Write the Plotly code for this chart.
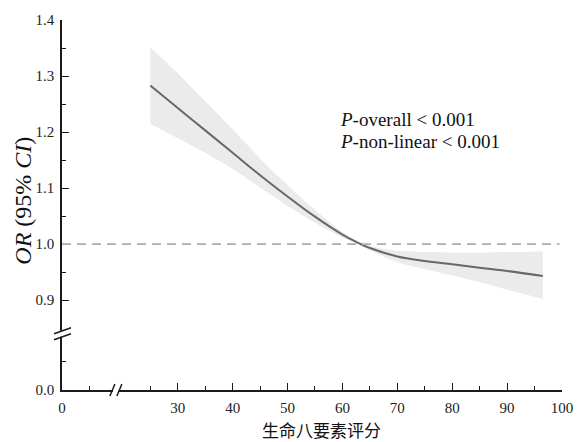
import plotly.graph_objects as go

# ---- data ----
score = [25, 30, 35, 40, 45, 50, 55, 60, 62.5, 65, 70, 75, 80, 85, 90, 96.5]
or_est = [1.283, 1.243, 1.203, 1.163, 1.123, 1.085, 1.049, 1.017, 1.004, 0.993, 0.978,
          0.970, 0.964, 0.958, 0.952, 0.943]
ci_upper = [1.351, 1.305, 1.255, 1.205, 1.153, 1.105, 1.061, 1.022, 1.006, 0.997, 0.988,
            0.986, 0.985, 0.985, 0.986, 0.987]
ci_lower = [1.215, 1.189, 1.163, 1.134, 1.101, 1.068, 1.038, 1.012, 1.002, 0.989, 0.968,
            0.955, 0.944, 0.932, 0.919, 0.902]

x_major_hi = [30, 40, 50, 60, 70, 80, 90, 100]
x_minor_hi = [25, 35, 45, 55, 65, 75, 85, 95]
y_major_hi = [0.9, 1.0, 1.1, 1.2, 1.3, 1.4]
y_minor_hi = [0.95, 1.05, 1.15, 1.25, 1.35]
ref_value = 1.0

p_text = ["<i>P</i>-overall < 0.001", "<i>P</i>-non-linear < 0.001"]
x_title = "生命八要素评分"
y_title = "<i>OR</i> (95% <i>CI</i>)"

# ---- layout geometry ----
W, H = 585, 442
L, R, T, B = 62, 22, 15, 52
pw, ph = W - L - R, H - T - B
fx = 54 / pw      # x break fraction
fy = 57 / ph      # y break fraction
serif = "Liberation Serif, Times New Roman, serif"
axis_col = "#1a1a1a"

fig = go.Figure()

# invisible anchors so that all four subplots (and their axes) exist
for xa, ya in [("x", "y2"), ("x", "y"), ("x2", "y2")]:
    fig.add_trace(go.Scatter(x=[0], y=[0], xaxis=xa, yaxis=ya, mode="lines",
                             line=dict(width=0), hoverinfo="skip", showlegend=False))

fig.add_trace(go.Scatter(x=score, y=ci_lower, xaxis="x2", yaxis="y", mode="lines",
                         line=dict(width=0, color="rgba(0,0,0,0)", shape="spline"),
                         hoverinfo="skip", showlegend=False))
fig.add_trace(go.Scatter(x=score, y=ci_upper, xaxis="x2", yaxis="y", mode="lines",
                         line=dict(width=0, color="rgba(0,0,0,0)", shape="spline"),
                         fill="tonexty", fillcolor="#ebebeb", hoverinfo="skip",
                         showlegend=False))
fig.add_trace(go.Scatter(x=score, y=or_est, xaxis="x2", yaxis="y", mode="lines",
                         line=dict(color="#686868", width=2, shape="spline"),
                         showlegend=False))

common = dict(showline=True, linecolor=axis_col, linewidth=1.5, ticks="inside",
              ticklen=7, tickwidth=1.3, tickcolor=axis_col, showgrid=False, zeroline=False,
              ticklabelstandoff=3,
              tickfont=dict(family=serif, size=15, color="#222"))
minor = dict(ticks="inside", ticklen=4, tickwidth=1.3, tickcolor=axis_col, tickmode="array")

fig.update_layout(
    width=W, height=H, margin=dict(l=L, r=R, t=T, b=B),
    paper_bgcolor="white", plot_bgcolor="white",
    xaxis=dict(domain=[0, fx], range=[0, 9.818], anchor="y2", tickmode="array",
               tickvals=[0], ticktext=["0"], minor=dict(tickvals=[5], **minor), **common),
    xaxis2=dict(domain=[fx, 1], range=[18.73, 100], anchor="y2", tickmode="array",
                tickvals=x_major_hi, minor=dict(tickvals=x_minor_hi, **minor), **common),
    yaxis=dict(domain=[fy, 1], range=[0.840, 1.4], anchor="x", tickmode="array",
               tickvals=y_major_hi, ticktext=[f"{v:.1f}" for v in y_major_hi],
               minor=dict(tickvals=y_minor_hi, **minor), **common),
    yaxis2=dict(domain=[0, fy], range=[0, 0.1004], anchor="x", tickmode="array",
                tickvals=[0.0], ticktext=["0.0"], minor=dict(tickvals=[0.05], **minor),
                **common),
)

# reference line at OR = 1
fig.add_shape(type="line", xref="paper", yref="y", x0=0, x1=0.995, y0=ref_value, y1=ref_value,
              line=dict(color="#adadad", width=1.6, dash="9px,6px"), layer="above")

# axis break marks (pixel offsets around the break positions)
def brk(xanchor, yanchor, dx0, dy0, dx1, dy1, color, width):
    fig.add_shape(type="line", xref="paper", yref="paper", xsizemode="pixel",
                  ysizemode="pixel", xanchor=xanchor, yanchor=yanchor,
                  x0=dx0, y0=dy0, x1=dx1, y1=dy1, line=dict(color=color, width=width),
                  layer="above")

# y break: white gap then two slashes
brk(0, fy, 0, 3, 0, -3, "white", 4)
brk(0, fy, -8, 0, 9, 6, axis_col, 1.5)
brk(0, fy, -8, -6, 9, 0, axis_col, 1.5)
# x break
brk(fx, 0, -3, 0, 3, 0, "white", 4)
brk(fx, 0, -6, -6, -1, 6, axis_col, 1.5)
brk(fx, 0, 1, -6, 6, 6, axis_col, 1.5)

# p-value text
for i, yy in enumerate([116, 138]):
    fig.add_annotation(xref="paper", yref="paper", x=(339 - L) / pw, y=1 - (yy - T) / ph,
                       text=p_text[i], showarrow=False, xanchor="left", yanchor="middle",
                       font=dict(family=serif, size=19, color="#111"))

# axis titles
fig.add_annotation(xref="paper", yref="paper", x=(322 - L) / pw, y=-(430 - T - ph) / ph,
                   text=x_title, showarrow=False, xanchor="center", yanchor="middle",
                   font=dict(family="Noto Sans CJK SC", size=17, color="#111"))
fig.add_annotation(xref="paper", yref="paper", x=-(L - 22) / pw, y=1 - (198 - T) / ph,
                   text=y_title, showarrow=False, textangle=-90, xanchor="center",
                   yanchor="middle", font=dict(family=serif, size=24, color="#111"))

fig.write_html("out.html", post_script="document.body.style.margin='0';",
               config={"displayModeBar": False})
